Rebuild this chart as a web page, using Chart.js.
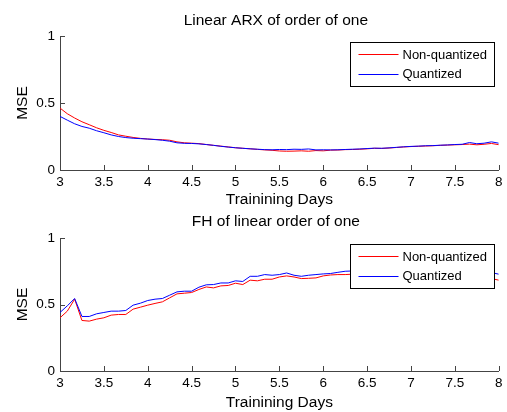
<!DOCTYPE html>
<html><head><meta charset="utf-8">
<script src="https://cdn.jsdelivr.net/npm/chart.js@4.4.0/dist/chart.umd.min.js"></script>
<style>
html,body{margin:0;padding:0;background:#fff;}
#w{position:relative;width:507px;height:412px;overflow:hidden;background:#fff;}
canvas{position:absolute;left:0;}
</style></head><body>
<div id="w">
<canvas id="c1" width="507" height="212" style="top:0;width:507px;height:212px"></canvas>
<canvas id="c2" width="507" height="200" style="top:212px;width:507px;height:200px"></canvas>
</div>
<script>
const days = [3.000,3.083,3.167,3.250,3.333,3.417,3.500,3.583,3.667,3.750,3.833,3.917,
  4.000,4.083,4.167,4.250,4.333,4.417,4.500,4.583,4.667,4.750,4.833,4.917,
  5.000,5.083,5.167,5.250,5.333,5.417,5.500,5.583,5.667,5.750,5.833,5.917,
  6.000,6.083,6.167,6.250,6.333,6.417,6.500,6.583,6.667,6.750,6.833,6.917,
  7.000,7.083,7.167,7.250,7.333,7.417,7.500,7.583,7.667,7.750,7.833,7.917,8.000];

const arxNonQuantized = [0.462,0.420,0.388,0.360,0.338,0.315,0.296,0.280,0.262,0.252,0.243,0.236,
  0.231,0.228,0.226,0.222,0.210,0.203,0.200,0.197,0.190,0.184,0.178,0.172,
  0.166,0.162,0.158,0.154,0.150,0.147,0.142,0.140,0.141,0.143,0.140,0.145,
  0.143,0.148,0.149,0.152,0.153,0.155,0.158,0.162,0.161,0.164,0.168,0.172,
  0.175,0.177,0.179,0.181,0.184,0.186,0.188,0.190,0.193,0.188,0.192,0.198,0.189];

const arxQuantized = [0.400,0.372,0.345,0.325,0.312,0.293,0.278,0.262,0.250,0.242,0.237,0.234,
  0.231,0.227,0.222,0.215,0.203,0.199,0.198,0.195,0.190,0.184,0.177,0.171,
  0.166,0.162,0.158,0.155,0.152,0.151,0.153,0.152,0.155,0.154,0.157,0.150,
  0.151,0.150,0.151,0.153,0.155,0.157,0.160,0.163,0.162,0.165,0.169,0.173,
  0.176,0.178,0.181,0.182,0.185,0.187,0.190,0.192,0.205,0.196,0.200,0.210,0.200];

const fhNonQuantized = [0.400,0.450,0.540,0.380,0.375,0.390,0.400,0.420,0.425,0.425,0.465,0.480,
  0.495,0.508,0.520,0.550,0.580,0.585,0.590,0.613,0.632,0.625,0.640,0.643,
  0.660,0.650,0.683,0.678,0.690,0.690,0.707,0.715,0.707,0.695,0.697,0.700,
  0.715,0.722,0.725,0.725,0.728,0.730,0.735,0.730,0.738,0.740,0.735,0.742,
  0.745,0.740,0.745,0.748,0.742,0.745,0.748,0.745,0.740,0.735,0.720,0.695,0.683];

const fhQuantized = [0.440,0.490,0.545,0.410,0.410,0.430,0.440,0.450,0.450,0.455,0.495,0.510,
  0.530,0.540,0.545,0.570,0.595,0.600,0.600,0.630,0.648,0.650,0.662,0.662,
  0.678,0.673,0.712,0.712,0.725,0.720,0.725,0.737,0.720,0.712,0.720,0.725,
  0.730,0.733,0.742,0.750,0.752,0.755,0.758,0.755,0.760,0.762,0.758,0.765,
  0.768,0.763,0.768,0.770,0.765,0.768,0.770,0.768,0.765,0.760,0.752,0.740,0.728];

const xTicks = [3,3.5,4,4.5,5,5.5,6,6.5,7,7.5,8];
const yTicks = [0,0.5,1];
const seriesNames = ['Non-quantized','Quantized'];
const seriesColors = ['#ff0000','#0000ff'];
const chartTitles = ['Linear ARX of order of one','FH of linear order of one'];
const xTitle = 'Trainining Days';
const yTitle = 'MSE';

const FAM = '"Liberation Sans", Arial, Helvetica, sans-serif';
const AXC = '#444';

const axTitlePlugin = {
  id: 'axTitle',
  afterDraw(chart, args, opts) {
    const ca = chart.chartArea, ctx = chart.ctx;
    ctx.save();
    ctx.font = '15.5px ' + FAM;
    ctx.fillStyle = '#000';
    ctx.textAlign = 'center';
    ctx.textBaseline = 'middle';
    ctx.fillText(opts.text, (ca.left + ca.right) / 2 - 3.5, ca.top - opts.offset);
    ctx.restore();
  }
};

const inwardTicks = {
  id: 'inwardTicks',
  afterDraw(chart) {
    const ctx = chart.ctx, ca = chart.chartArea;
    const xs = chart.scales.x, ys = chart.scales.y;
    ctx.save();
    ctx.strokeStyle = AXC;
    ctx.lineWidth = 1;
    ctx.beginPath();
    xTicks.forEach(v => {
      const px = Math.round(xs.getPixelForValue(v)) + 0.5;
      ctx.moveTo(px, ca.bottom);
      ctx.lineTo(px, ca.bottom - 5);
    });
    yTicks.forEach(v => {
      const py = Math.round(ys.getPixelForValue(v)) + 0.5;
      ctx.moveTo(ca.left, py);
      ctx.lineTo(ca.left + 5, py);
    });
    ctx.stroke();
    ctx.restore();
  }
};

const boxLegend = {
  id: 'boxLegend',
  afterDatasetsDraw(chart) {
    const ca = chart.chartArea, ctx = chart.ctx;
    const x0 = Math.round(ca.right - 149) + 0.5, x1 = Math.round(ca.right - 5) + 0.5;
    const y0 = Math.round(ca.top + 6) + 0.5, y1 = Math.round(ca.top + 50) + 0.5;
    ctx.save();
    ctx.fillStyle = '#fff';
    ctx.fillRect(x0, y0, x1 - x0, y1 - y0);
    ctx.strokeStyle = '#000';
    ctx.lineWidth = 1;
    ctx.strokeRect(x0, y0, x1 - x0, y1 - y0);
    const rows = [y0 + 11.5, y0 + 31];
    ctx.font = '13px ' + FAM;
    ctx.textAlign = 'left';
    ctx.textBaseline = 'middle';
    seriesNames.forEach((name, i) => {
      ctx.strokeStyle = seriesColors[i];
      ctx.beginPath();
      ctx.moveTo(x0 + 8, Math.round(rows[i]) + 0.5);
      ctx.lineTo(x0 + 48, Math.round(rows[i]) + 0.5);
      ctx.stroke();
      ctx.fillStyle = '#000';
      ctx.fillText(name, x0 + 52, rows[i] + 1);
    });
    ctx.restore();
  }
};

function build(id, title, titleOffset, nonq, q, areaTop, axisH, xTitlePadB) {
  return new Chart(document.getElementById(id), {
    type: 'line',
    data: {
      datasets: [
        { label: seriesNames[0], data: days.map((d, i) => ({ x: d, y: nonq[i] })),
          borderColor: seriesColors[0], borderWidth: 1, pointRadius: 0, fill: false, tension: 0, order: 2 },
        { label: seriesNames[1], data: days.map((d, i) => ({ x: d, y: q[i] })),
          borderColor: seriesColors[1], borderWidth: 1, pointRadius: 0, fill: false, tension: 0, order: 1 }
      ]
    },
    options: {
      responsive: false, animation: false, events: [],
      layout: { padding: { left: 0, right: 8, top: areaTop, bottom: 0 } },
      plugins: {
        legend: { display: false }, tooltip: { enabled: false }, title: { display: false },
        axTitle: { text: title, offset: titleOffset }
      },
      scales: {
        x: {
          type: 'linear', min: 3, max: 8,
          afterBuildTicks: s => { s.ticks = xTicks.map(v => ({ value: v })); },
          ticks: { font: { family: FAM, size: 13.5 }, color: '#000', padding: 4.5, maxRotation: 0, autoSkip: false,
                   callback: v => String(v) },
          grid: { display: false, drawTicks: false },
          border: { display: true, color: AXC, width: 1 },
          title: { display: true, text: xTitle, color: '#000', font: { family: FAM, size: 15.5 },
                   padding: { top: 0, bottom: xTitlePadB } },
          afterFit: s => { s.height = axisH; }
        },
        y: {
          type: 'linear', min: 0, max: 1,
          afterBuildTicks: s => { s.ticks = yTicks.map(v => ({ value: v })); },
          ticks: { font: { family: FAM, size: 13.5 }, color: '#000', padding: 5, autoSkip: false,
                   callback: v => String(v) },
          grid: { display: false, drawTicks: false },
          border: { display: true, color: AXC, width: 1 },
          title: { display: true, text: yTitle, color: '#000', font: { family: FAM, size: 15.5 },
                   padding: { top: 13.2, bottom: 0 } },
          afterFit: s => { s.width = 60; }
        }
      }
    },
    plugins: [inwardTicks, axTitlePlugin, boxLegend]
  });
}

build('c1', chartTitles[0], 15, arxNonQuantized, arxQuantized, 36, 42, 2.7);
build('c2', chartTitles[1], 16, fhNonQuantized, fhQuantized, 26, 41, 0);
</script>
</body></html>
